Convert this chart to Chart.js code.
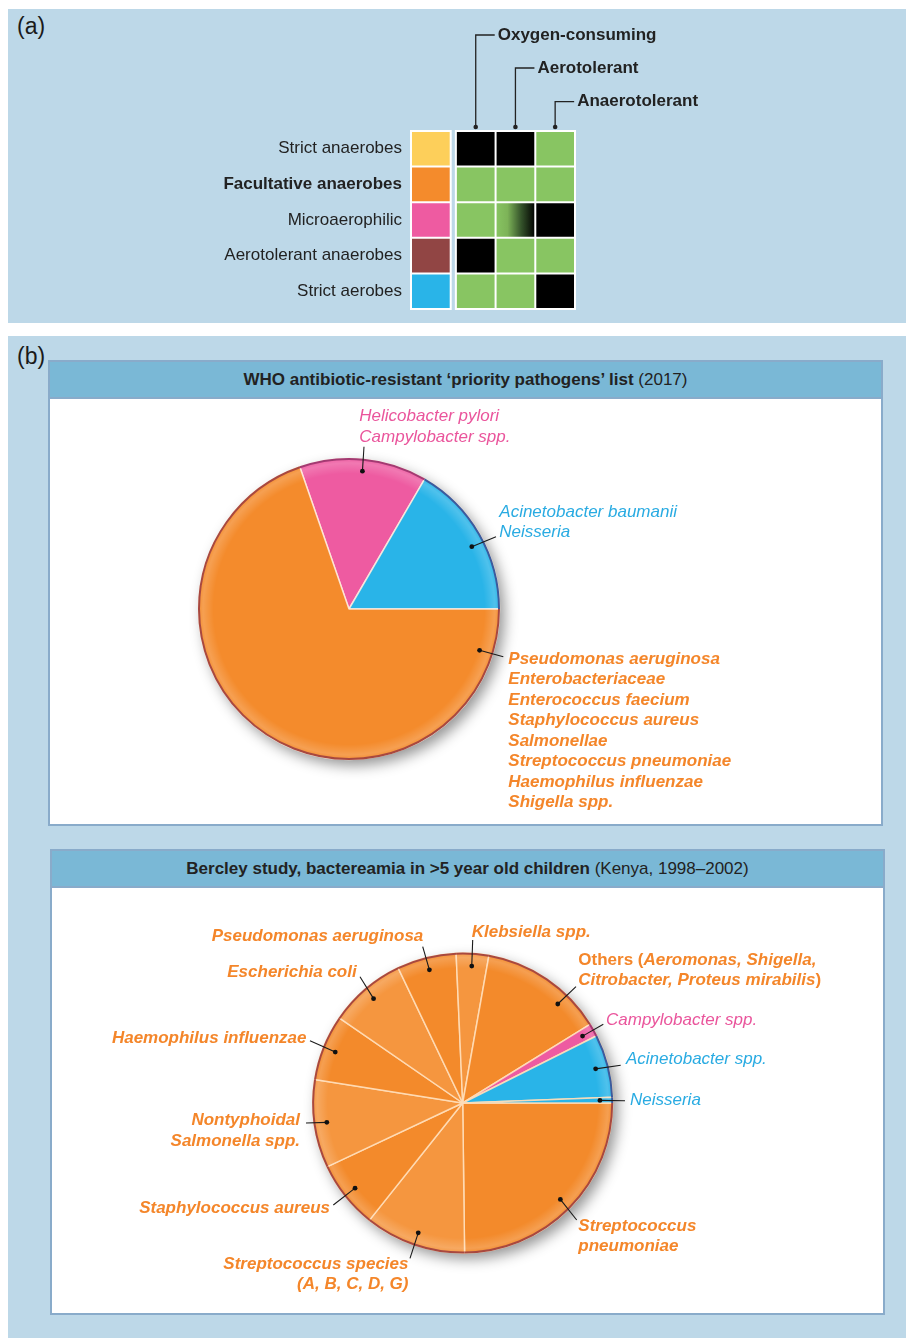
<!DOCTYPE html>
<html lang="en">
<head>
<meta charset="UTF-8">
<title>Oxygen tolerance and priority pathogens</title>
<script src="https://cdn.jsdelivr.net/npm/chart.js@4.4.1/dist/chart.umd.min.js"></script>
<style>
  body { margin: 0; width: 906px; height: 1338px; position: relative; background: #fff; overflow: hidden;
         font-family: "Liberation Sans", Arial, sans-serif; color: #222; }
  .panel { position: absolute; left: 8px; width: 898px; background: #bdd8e8; }
  .tag { position: absolute; left: 17px; font-size: 23px; line-height: 26px; color: #1a1a1a; }
  .box { position: absolute; background: #fff; border: 2px solid #89abca; box-sizing: border-box; width: 835px; height: 466px; }
  .box-head { height: 35px; background: #7ab8d6; border-bottom: 2px solid #89abca; text-align: center;
              line-height: 35px; font-size: 17px; color: #222; }
  canvas { position: absolute; }
</style>
</head>
<body>
<div class="panel" style="top:9px;height:314px"></div>
<div class="panel" style="top:336px;height:1002px"></div>
<div class="tag" style="top:13px">(a)</div>
<div class="tag" style="top:343px">(b)</div>

<div class="box" style="left:48px;top:360px">
  <div class="box-head"><b>WHO antibiotic-resistant ‘priority pathogens’ list</b> (2017)</div>
</div>
<div class="box" style="left:50px;top:849px">
  <div class="box-head"><b>Bercley study, bactereamia in &gt;5 year old children</b> (Kenya, 1998–2002)</div>
</div>

<canvas id="gridChart" width="898" height="314" style="left:8px;top:9px"></canvas>
<canvas id="whoChart" width="831" height="425" style="left:50px;top:399px"></canvas>
<canvas id="kenyaChart" width="831" height="425" style="left:52px;top:888px"></canvas>

<script>
// ---- (a) oxygen requirement groups ----
const oxygenGroups = ['Strict anaerobes', 'Facultative anaerobes', 'Microaerophilic', 'Aerotolerant anaerobes', 'Strict aerobes'];
const oxygenTraits = ['Oxygen-consuming', 'Aerotolerant', 'Anaerotolerant'];
// 1 = yes, 0 = no, 0.5 = partly
const oxygenConsuming = [0, 1, 1, 0, 1];
const aerotolerant    = [0, 1, 0.5, 1, 1];
const anaerotolerant  = [1, 1, 0, 1, 0];

// ---- (b) WHO priority list ----
const whoGroups = ['Microaerophilic', 'Strict aerobes', 'Facultative anaerobes'];
const whoShares = [13.7, 16.6, 69.7];
const whoLabels = [
  ['Helicobacter pylori', 'Campylobacter spp.'],
  ['Acinetobacter baumanii', 'Neisseria'],
  ['Pseudomonas aeruginosa', 'Enterobacteriaceae', 'Enterococcus faecium', 'Staphylococcus aureus',
   'Salmonellae', 'Streptococcus pneumoniae', 'Haemophilus influenzae', 'Shigella spp.']
];

// ---- (b) Kenya bacteraemia study ----
const kenyaPathogens = ['Streptococcus pneumoniae', 'Streptococcus species', 'Staphylococcus aureus',
  'Nontyphoidal Salmonella spp.', 'Haemophilus influenzae', 'Escherichia coli', 'Pseudomonas aeruginosa',
  'Klebsiella spp.', 'Others', 'Campylobacter spp.', 'Acinetobacter spp.', 'Neisseria'];
const kenyaShares = [24.8, 10.9, 7.3, 9.5, 7.1, 8.3, 6.4, 3.5, 13.4, 1.4, 6.8, 0.6];
const kenyaGroups = ['Facultative anaerobes', 'Facultative anaerobes', 'Facultative anaerobes', 'Facultative anaerobes',
  'Facultative anaerobes', 'Facultative anaerobes', 'Facultative anaerobes', 'Facultative anaerobes',
  'Facultative anaerobes', 'Microaerophilic', 'Strict aerobes', 'Strict aerobes'];
// *...* toggles italic inside a label line
const kenyaLabels = [
  ['Streptococcus', 'pneumoniae'],
  ['Streptococcus species', '(A, B, C, D, G)'],
  ['Staphylococcus aureus'],
  ['Nontyphoidal', 'Salmonella spp.'],
  ['Haemophilus influenzae'],
  ['Escherichia coli'],
  ['Pseudomonas aeruginosa'],
  ['Klebsiella spp.'],
  ['Others (*Aeromonas, Shigella,*', '*Citrobacter, Proteus mirabilis*)'],
  ['Campylobacter spp.'],
  ['Acinetobacter spp.'],
  ['Neisseria']
];

// ---- styling ----
const FONT = '"Liberation Sans", Arial, sans-serif';
const GREEN = '#88c562';
const GAP = 0.13;
const groupColor = {
  'Strict anaerobes': '#fdcf5a',
  'Facultative anaerobes': '#f48b2c',
  'Microaerophilic': '#ee5ba1',
  'Aerotolerant anaerobes': '#914544',
  'Strict aerobes': '#29b4e8'
};
const groupText = { 'Facultative anaerobes': '#f4862a', 'Microaerophilic': '#ea559c', 'Strict aerobes': '#29abe2' };
const groupRim = { 'Facultative anaerobes': '#a8483f', 'Microaerophilic': '#a33a72', 'Strict aerobes': '#3c5a9c' };

// ---------- (a) grid ----------
function traitColor(values, col) {
  return (ctx) => {
    const v = values[ctx.dataIndex];
    if (v >= 1) return GREEN;
    if (v <= 0) return '#000000';
    const x = ctx.chart.scales.x;
    if (!x) return GREEN;
    const x0 = x.getPixelForValue(1 + GAP + col);
    const x1 = x.getPixelForValue(2 + GAP + col);
    const g = ctx.chart.ctx.createLinearGradient(x0, 0, x1, 0);
    g.addColorStop(0, GREEN);
    g.addColorStop(0.3, '#7db358');
    g.addColorStop(0.65, '#34522a');
    g.addColorStop(1, '#000000');
    return g;
  };
}

const headerRows = [26, 59, 92.7];

const gridDecor = {
  id: 'gridDecor',
  beforeDatasetsDraw(chart) {
    const { ctx, chartArea: a, scales: { x } } = chart;
    ctx.save();
    ctx.fillStyle = '#fff';
    [[0, 1], [1 + GAP, 4 + GAP]].forEach(([s, e]) => {
      const l = x.getPixelForValue(s), r = x.getPixelForValue(e);
      ctx.fillRect(l - 1, a.top - 1, r - l + 2, a.bottom - a.top + 2);
    });
    ctx.restore();
  },
  afterDatasetsDraw(chart) {
    const { ctx, chartArea: a, scales: { x, y } } = chart;
    ctx.save();
    ctx.fillStyle = '#222';
    ctx.textBaseline = 'middle';
    ctx.textAlign = 'right';
    oxygenGroups.forEach((g, i) => {
      ctx.font = (i === 1 ? 'bold ' : '') + '17px ' + FONT;
      ctx.fillText(g, x.getPixelForValue(0) - 9, y.getPixelForValue(i));
    });
    ctx.textAlign = 'left';
    ctx.font = 'bold 17px ' + FONT;
    ctx.strokeStyle = '#222';
    ctx.lineWidth = 1.3;
    oxygenTraits.forEach((t, i) => {
      const cx = x.getPixelForValue(1.5 + GAP + i);
      const ty = headerRows[i];
      const bottom = a.top - 4;
      ctx.beginPath();
      ctx.moveTo(cx, bottom);
      ctx.lineTo(cx, ty);
      ctx.lineTo(cx + 19, ty);
      ctx.stroke();
      ctx.beginPath();
      ctx.arc(cx, bottom, 2.3, 0, Math.PI * 2);
      ctx.fill();
      ctx.fillText(t, cx + 22, ty);
    });
    ctx.restore();
  }
};

const traitColumns = [oxygenConsuming, aerotolerant, anaerotolerant];

new Chart(document.getElementById('gridChart'), {
  type: 'bar',
  data: {
    labels: oxygenGroups,
    datasets: [
      { data: oxygenGroups.map(() => 1), backgroundColor: oxygenGroups.map(g => groupColor[g]) },
      { data: oxygenGroups.map(() => GAP), backgroundColor: 'rgba(0,0,0,0)', borderWidth: 0 },
      ...traitColumns.map((vals, col) => ({
        data: vals.map(() => 1),
        backgroundColor: traitColor(vals, col)
      }))
    ]
  },
  options: {
    indexAxis: 'y',
    responsive: false,
    animation: false,
    layout: { padding: { left: 403, right: 331, top: 122, bottom: 14 } },
    datasets: { bar: { barPercentage: 1, categoryPercentage: 1, borderColor: '#fff', borderWidth: 1, borderSkipped: false, inflateAmount: 0 } },
    scales: {
      x: { stacked: true, min: 0, max: 4 + GAP, display: false },
      y: { stacked: true, display: false }
    },
    plugins: { legend: { display: false }, tooltip: { enabled: false } }
  },
  plugins: [gridDecor]
});

// ---------- (b) pies ----------
function drawRich(ctx, line, x, y, align, bold, italic, color) {
  const parts = line.split('*');
  const fontFor = (k) => {
    const it = (k % 2 === 1) ? !italic : italic;
    return (it ? 'italic ' : '') + (bold ? 'bold ' : '') + '17px ' + FONT;
  };
  let total = 0;
  parts.forEach((p, k) => { ctx.font = fontFor(k); total += ctx.measureText(p).width; });
  let cx = align === 'right' ? x - total : x;
  ctx.fillStyle = color;
  ctx.textAlign = 'left';
  ctx.textBaseline = 'middle';
  parts.forEach((p, k) => {
    ctx.font = fontFor(k);
    ctx.fillText(p, cx, y);
    cx += ctx.measureText(p).width;
  });
}

const pieDecor = {
  id: 'pieDecor',
  beforeDatasetsDraw(chart) {
    const { x, y, outerRadius } = chart.getDatasetMeta(0).data[0];
    const ctx = chart.ctx;
    ctx.save();
    ctx.shadowColor = 'rgba(0,0,0,0.42)';
    ctx.shadowBlur = 14;
    ctx.shadowOffsetX = 5;
    ctx.shadowOffsetY = 6;
    ctx.beginPath();
    ctx.arc(x, y, outerRadius, 0, Math.PI * 2);
    ctx.fillStyle = '#ddd';
    ctx.fill();
    ctx.restore();
  },
  afterDatasetsDraw(chart, args, opts) {
    const ctx = chart.ctx;
    const arcs = chart.getDatasetMeta(0).data;
    const { x, y, outerRadius: R } = arcs[0];
    ctx.save();
    // soft highlight just inside the rim
    const g = ctx.createRadialGradient(x, y, R * 0.9, x, y, R);
    g.addColorStop(0, 'rgba(255,255,255,0)');
    g.addColorStop(0.7, 'rgba(255,255,255,0.18)');
    g.addColorStop(1, 'rgba(255,255,255,0.04)');
    ctx.beginPath();
    ctx.arc(x, y, R, 0, Math.PI * 2);
    ctx.fillStyle = g;
    ctx.fill();
    // darker outer rim per slice
    ctx.lineWidth = 2;
    arcs.forEach((a, i) => {
      ctx.beginPath();
      ctx.arc(x, y, R - 0.5, a.startAngle, a.endAngle);
      ctx.strokeStyle = opts.rims[i];
      ctx.stroke();
    });
    // labels with leader lines
    opts.labels.forEach((lab) => {
      const a = arcs[lab.slice];
      const ang = a.startAngle + lab.t * (a.endAngle - a.startAngle);
      const r = R * lab.rf;
      const px = x + r * Math.cos(ang), py = y + r * Math.sin(ang);
      ctx.strokeStyle = '#1a1a1a';
      ctx.lineWidth = 1.1;
      ctx.beginPath();
      ctx.moveTo(px, py);
      ctx.lineTo(lab.end[0], lab.end[1]);
      ctx.stroke();
      ctx.fillStyle = '#111';
      ctx.beginPath();
      ctx.arc(px, py, 2.4, 0, Math.PI * 2);
      ctx.fill();
      lab.text.forEach((line, k) =>
        drawRich(ctx, line, lab.x, lab.y + k * lab.lh, lab.align, lab.bold, lab.italic, lab.color));
    });
    ctx.restore();
  }
};

function makePie(id, groups, shares, fills, names, rotation, radius, padding, labels, separator) {
  return new Chart(document.getElementById(id), {
    type: 'pie',
    data: {
      labels: names,
      datasets: [{
        data: shares,
        backgroundColor: fills,
        borderColor: separator,
        borderWidth: 1.5
      }]
    },
    options: {
      responsive: false,
      animation: false,
      rotation: rotation,
      radius: radius,
      layout: { padding: padding },
      plugins: {
        legend: { display: false },
        tooltip: { enabled: false },
        pieDecor: { rims: groups.map(g => groupRim[g]), labels: labels }
      }
    },
    plugins: [pieDecor]
  });
}

// WHO list
const whoLayout = [
  { x: 309.3, y: 17.7, lh: 20.6, align: 'left', end: [314, 47.7], t: 0.5, rf: 0.92, bold: false },
  { x: 449.3, y: 113.3, lh: 20, align: 'left', end: [446, 137.7], t: 0.55, rf: 0.915, bold: false },
  { x: 458.3, y: 260, lh: 20.5, align: 'left', end: [453.3, 257.7], t: 0.07, rf: 0.91, bold: true }
];
makePie('whoChart', whoGroups, whoShares, whoGroups.map(g => groupColor[g]), whoGroups, -19.1, 150.5,
  { left: 149, right: 382, top: 60, bottom: 65 },
  whoLayout.map((l, i) => Object.assign({ slice: i, text: whoLabels[i], italic: true, color: groupText[whoGroups[i]] }, l)),
  'rgba(255,236,222,0.85)');

// Kenya study
const kenyaLayout = [
  { x: 526.3, y: 338.7, lh: 20, align: 'left', end: [524.7, 332] },
  { x: 356.5, y: 376, lh: 20, align: 'right', end: [358, 370.3] },
  { x: 278, y: 320.3, lh: 20, align: 'right', end: [281.3, 317] },
  { x: 248, y: 232, lh: 21, align: 'right', end: [254, 235] },
  { x: 254.5, y: 150, lh: 20, align: 'right', end: [258, 152.7] },
  { x: 304.7, y: 84.7, lh: 20, align: 'right', end: [308, 88.7] },
  { x: 371.3, y: 48.7, lh: 20, align: 'right', end: [370.7, 58.7] },
  { x: 419.7, y: 44.3, lh: 20, align: 'left', end: [420.7, 52] },
  { x: 526.3, y: 72.7, lh: 20, align: 'left', end: [524, 98.7], italic: false, t: 0.7 },
  { x: 554, y: 132, lh: 20, align: 'left', end: [551.3, 136.3] },
  { x: 574, y: 171.3, lh: 20, align: 'left', end: [568.7, 177.3] },
  { x: 578, y: 212.7, lh: 20, align: 'left', end: [573, 212.7] }
];
const kenyaFills = kenyaGroups.map((g, i) =>
  g === 'Facultative anaerobes' ? (i % 2 === 0 ? '#f38a2b' : '#f5963f') : groupColor[g]);
makePie('kenyaChart', kenyaGroups, kenyaShares, kenyaFills, kenyaPathogens, 90, 150,
  { left: 260.7, right: 270.3, top: 65, bottom: 60 },
  kenyaLayout.map((l, i) => Object.assign({
    slice: i, text: kenyaLabels[i], t: 0.5, rf: 0.915, italic: true,
    bold: kenyaGroups[i] === 'Facultative anaerobes', color: groupText[kenyaGroups[i]]
  }, l)),
  'rgba(255,222,185,0.9)');
</script>
</body>
</html>
